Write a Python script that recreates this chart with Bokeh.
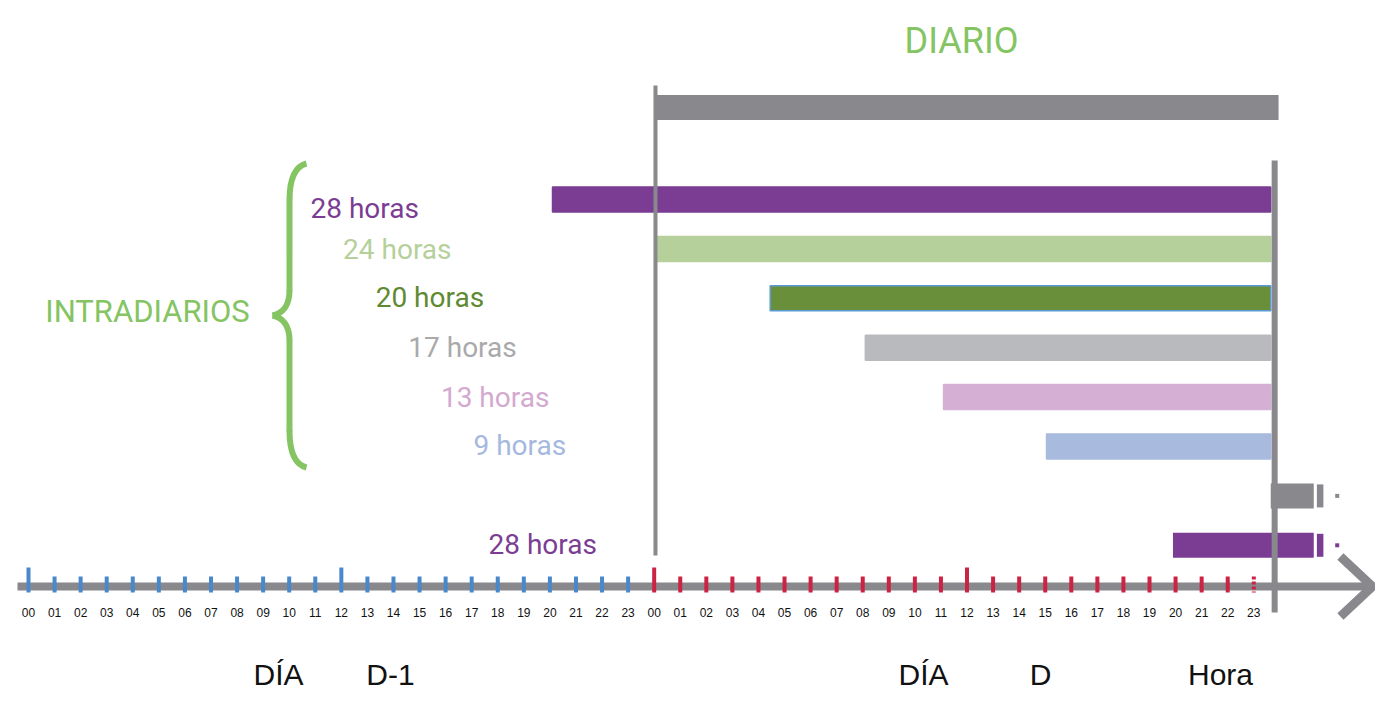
from bokeh.plotting import figure
from bokeh.models import Range1d, ColumnDataSource
from bokeh.core.properties import value
from bokeh.embed import file_html
from bokeh.resources import INLINE

# ---------------- data (hours counted from 00:00 of day D-1) ----------------
hour_labels = ["%02d" % h for h in range(24)]
prev_day_hours = list(range(0, 24))      # day D-1
cur_day_hours = list(range(24, 48))      # day D

diario_label = "DIARIO"
diario_start = 24.05
diario_end = 47.95

intra_labels = ["28 horas", "24 horas", "20 horas", "17 horas", "13 horas", "9 horas"]
intra_start = [20.1, 24.05, 28.45, 32.1, 35.1, 39.05]
intra_end = [47.65, 47.65, 47.65, 47.65, 47.65, 47.65]

extra_labels = ["", "28 horas"]
extra_start = [47.65, 43.9]
extra_end = [49.3, 49.3]

gate_hour = 47.8        # right vertical limit line
axis_end_hour = 51.55

bottom_labels = ["DÍA", "D-1", "DÍA", "D", "Hora"]

# ---------------- styles ----------------
GRAY = "#88888d"
GREEN_TXT = "#85c463"
intra_fill = ["#7b3d93", "#b6d09b", "#698f3b", "#b9babd", "#d6b0d4", "#a9badf"]
intra_line = [None, None, "#5b9bd5", None, None, None]
intra_txt = ["#7b3d93", "#b6d09b", "#5e8a32", "#a9a9ab", "#d4a9d0", "#a5b8e0"]
extra_fill = [GRAY, "#7b3d93"]
extra_txt = [GRAY, "#7b3d93"]

PX0, PXH = 28.0, 26.07          # pixel of hour 0 and pixels per hour
def hx(X):
    return (X - PX0) / PXH

W, H = 1375, 695
p = figure(width=W, height=H, x_range=Range1d(hx(0), hx(W)),
           y_range=Range1d(H, 0), toolbar_location=None,
           output_backend="svg", min_border=0, x_axis_type=None,
           y_axis_type=None, outline_line_color=None)
p.background_fill_color = "white"
p.border_fill_color = "white"

BAR_H = 25
row_y = [199 + 49.4 * i for i in range(8)]
diario_y = 107
label_font = value("Roboto")
plain = value("Liberation Sans")

# DIARIO bar
p.hbar(y=[diario_y], left=[diario_start], right=[diario_end], height=BAR_H,
       fill_color=GRAY, line_color=None)

# intraday bars
src = ColumnDataSource(dict(y=row_y[:6], left=intra_start, right=intra_end,
                            fill=intra_fill,
                            line=[c if c else f for c, f in zip(intra_line, intra_fill)]))
p.hbar(y="y", left="left", right="right", height=BAR_H, fill_color="fill",
       line_color="line", line_width=1.5, source=src)

# extra bottom bars
src2 = ColumnDataSource(dict(y=row_y[6:8], left=extra_start, right=extra_end, fill=extra_fill))
p.hbar(y="y", left="left", right="right", height=BAR_H, fill_color="fill",
       line_color=None, source=src2)
p.hbar(y=row_y[6:8], left=[e + 0.12 for e in extra_end], right=[e + 0.37 for e in extra_end],
       height=BAR_H - 2, fill_color=extra_fill, line_color=None)
p.scatter(x=[e + 0.9 for e in extra_end], y=row_y[6:8], size=4, marker="square",
          fill_color=extra_fill, line_color=None)

# time axis line and arrow
p.line(x=[hx(17), axis_end_hour], y=[586, 586], line_width=8, line_color=GRAY)
p.line(x=[axis_end_hour - 32 / PXH, axis_end_hour, axis_end_hour - 32 / PXH],
       y=[556, 586, 616], line_width=9, line_color=GRAY, line_join="miter")

# ticks
def tick_top(h):
    return 567 if h % 12 == 0 else 576
p.segment(x0=prev_day_hours, y0=[tick_top(h) for h in prev_day_hours],
          x1=prev_day_hours, y1=[592] * 24, line_width=4, line_color="#4a88cc")
p.segment(x0=cur_day_hours[:-1], y0=[tick_top(h) for h in cur_day_hours[:-1]],
          x1=cur_day_hours[:-1], y1=[592] * 23, line_width=4, line_color="#cc2244")
p.segment(x0=[cur_day_hours[-1]], y0=[576], x1=[cur_day_hours[-1]], y1=[592],
          line_width=4, line_color="#cc2244", line_dash="3 2")

# tick labels
p.text(x=prev_day_hours + cur_day_hours, y=[612] * 48, text=hour_labels * 2,
       text_align="center", text_baseline="middle", text_font=plain,
       text_font_size="12px", text_color="#111111")

# vertical limit lines
p.segment(x0=[diario_start], y0=[85], x1=[diario_start], y1=[555],
          line_width=4, line_color=GRAY)
p.segment(x0=[gate_hour], y0=[160], x1=[gate_hour], y1=[612],
          line_width=6, line_color=GRAY)

# bar labels
lab_offset = [9, 1, -1, 0, 0, -1]
p.text(x=[hx(310 + 32.6 * i) for i in range(6)],
       y=[row_y[i] + lab_offset[i] for i in range(6)], text=intra_labels,
       text_color=intra_txt, text_align="left", text_baseline="middle",
       text_font=label_font, text_font_size="28px")
p.text(x=[hx(488)], y=[row_y[7] - 1], text=[extra_labels[1]], text_color=extra_txt[1],
       text_align="left", text_baseline="middle", text_font=label_font,
       text_font_size="28px")

# group titles
p.text(x=[hx(961)], y=[40], text=[diario_label], text_color=GREEN_TXT,
       text_align="center", text_baseline="middle", text_font=label_font,
       text_font_size="36px")
p.text(x=[hx(147)], y=[311], text=["INTRADIARIOS"], text_color=GREEN_TXT,
       text_align="center", text_baseline="middle", text_font=label_font,
       text_font_size="31px")

# brace
bx = lambda X: hx(X)
p.bezier(x0=[bx(306), bx(289), bx(272), bx(289)],
         y0=[163, 290, 315, 430],
         x1=[bx(289), bx(272), bx(289), bx(306)],
         y1=[200, 315, 340, 467],
         cx0=[bx(294), bx(289), bx(282), bx(289)],
         cy0=[166, 305, 317, 452],
         cx1=[bx(289), bx(282), bx(289), bx(294)],
         cy1=[180, 313, 325, 464],
         line_width=6, line_color=GREEN_TXT)
p.segment(x0=[bx(289), bx(289)], y0=[199, 339], x1=[bx(289), bx(289)], y1=[291, 431],
          line_width=6, line_color=GREEN_TXT)

# bottom labels
p.text(x=[hx(278), hx(390), hx(923), hx(1040), hx(1220)], y=[674] * 5,
       text=bottom_labels, text_color="#111111", text_align="center",
       text_baseline="middle", text_font=plain, text_font_size="30px")

open("out.html", "w").write(file_html(p, INLINE))
